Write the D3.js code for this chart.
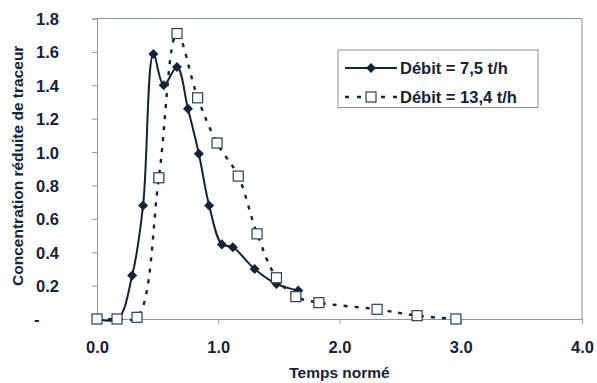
<!DOCTYPE html>
<html>
<head>
<meta charset="utf-8">
<script src="https://cdn.jsdelivr.net/npm/d3@7"></script>
<style>
  body { margin: 0; background: #fff; }
  text { font-family: "Liberation Sans", Arial, sans-serif; font-weight: bold; fill: #13233a; }
</style>
</head>
<body>
<figure id="chart" style="margin:0"></figure>
<script>
// data
const debit75X = [0, 0.17, 0.29, 0.38, 0.465, 0.55, 0.66, 0.75, 0.84, 0.925, 1.03, 1.12, 1.30, 1.48, 1.66];
const debit75Y = [0, 0, 0.26, 0.68, 1.587, 1.40, 1.51, 1.26, 0.99, 0.68, 0.447, 0.43, 0.30, 0.21, 0.17];

const debit134X = [0, 0.165, 0.33, 0.51, 0.66, 0.83, 0.99, 1.165, 1.32, 1.48, 1.64, 1.83, 2.31, 2.64, 2.96];
const debit134Y = [0, 0, 0.01, 0.846, 1.71, 1.325, 1.054, 0.856, 0.51, 0.247, 0.134, 0.098, 0.058, 0.02, 0];

const xTicks = [0, 1, 2, 3, 4];
const xTickLabels = ["0.0", "1.0", "2.0", "3.0", "4.0"];
const yTicks = [0, 0.2, 0.4, 0.6, 0.8, 1.0, 1.2, 1.4, 1.6, 1.8];
const yTickLabels = ["-", "0.2", "0.4", "0.6", "0.8", "1.0", "1.2", "1.4", "1.6", "1.8"];

const seriesNames = ["Débit = 7,5 t/h", "Débit = 13,4 t/h"];

const width = 597, height = 383;
const margin = { top: 18.5, right: 15, bottom: 64, left: 97 };
const ink = "#13233a", axisGray = "#8e969f";

const svg = d3.select("#chart").append("svg")
  .attr("width", width).attr("height", height);

const x = d3.scaleLinear().domain([0, 4]).range([margin.left, width - margin.right]);
const y = d3.scaleLinear().domain([0, 1.8]).range([height - margin.bottom, margin.top]);

// plot frame (top + right)
svg.append("path")
  .attr("d", `M${x(0)},${y(1.8)}H${x(4)}V${y(0)}`)
  .attr("fill", "none").attr("stroke", axisGray).attr("stroke-width", 1);

// axes
const gx = svg.append("g")
  .attr("transform", `translate(0,${y(0)})`)
  .call(d3.axisBottom(x).tickValues(xTicks).tickSize(5).tickFormat((d, i) => xTickLabels[i]));
gx.select(".domain").attr("stroke", axisGray);
gx.selectAll(".tick line").attr("stroke", axisGray);
gx.selectAll(".tick text").attr("dy", 0).attr("y", 34).style("font-size", "16.5px");

const gy = svg.append("g")
  .attr("transform", `translate(${x(0)},0)`)
  .call(d3.axisLeft(y).tickValues(yTicks).tickSize(5).tickFormat((d, i) => yTickLabels[i]));
gy.select(".domain").attr("stroke", axisGray);
gy.selectAll(".tick line").attr("stroke", axisGray);
gy.selectAll(".tick text").attr("x", -38).attr("dy", "0.36em").style("font-size", "16.5px");
gy.selectAll(".tick text").filter(d => d === 0).attr("text-anchor", "start").attr("x", -63);

// axis titles
svg.append("text")
  .attr("x", (x(0) + x(4)) / 2).attr("y", 378)
  .attr("text-anchor", "middle").style("font-size", "15.5px")
  .text("Temps normé");

svg.append("text")
  .attr("transform", `translate(23,${(y(0) + y(1.8)) / 2 - 3}) rotate(-90)`)
  .attr("text-anchor", "middle").style("font-size", "15.5px")
  .text("Concentration réduite de traceur");

const line = d3.line().x(d => x(d[0])).y(d => y(d[1])).curve(d3.curveCatmullRom.alpha(0.5));

const s1 = d3.zip(debit75X, debit75Y);
const s2 = d3.zip(debit134X, debit134Y);

svg.append("path").datum(s2)
  .attr("d", line).attr("fill", "none")
  .attr("stroke", ink).attr("stroke-width", 2.4).attr("stroke-dasharray", "4,7");

svg.append("path").datum(s1)
  .attr("d", line).attr("fill", "none")
  .attr("stroke", ink).attr("stroke-width", 2);

const diamond = d3.symbol().type(d3.symbolDiamond2).size(64);

svg.append("g").selectAll("path").data(s1).join("path")
  .attr("transform", d => `translate(${x(d[0])},${y(d[1])})`)
  .attr("d", diamond).attr("fill", ink);

svg.append("g").selectAll("rect").data(s2).join("rect")
  .attr("x", d => x(d[0]) - 5).attr("y", d => y(d[1]) - 5)
  .attr("width", 10).attr("height", 10)
  .attr("fill", "#fff").attr("stroke", "#2e3d50").attr("stroke-width", 1.2);

// legend
const lg = svg.append("g").attr("transform", "translate(338,50)");
lg.append("rect").attr("width", 200).attr("height", 57.5)
  .attr("fill", "#fff").attr("stroke", axisGray).attr("stroke-width", 1);

lg.append("line").attr("x1", 7).attr("x2", 59).attr("y1", 18).attr("y2", 18)
  .attr("stroke", ink).attr("stroke-width", 2);
lg.append("path").attr("transform", "translate(33,18)").attr("d", diamond).attr("fill", ink);

lg.append("line").attr("x1", 7).attr("x2", 59).attr("y1", 47).attr("y2", 47)
  .attr("stroke", ink).attr("stroke-width", 2.4).attr("stroke-dasharray", "4,8");
lg.append("rect").attr("x", 28).attr("y", 42).attr("width", 10).attr("height", 10)
  .attr("fill", "#fff").attr("stroke", "#2e3d50").attr("stroke-width", 1.2);

lg.selectAll("text.lab").data(seriesNames).join("text")
  .attr("class", "lab")
  .attr("x", 62).attr("y", (d, i) => 18 + i * 29).attr("dy", "0.36em")
  .style("font-size", "16.5px")
  .text(d => d);
</script>
</body>
</html>
